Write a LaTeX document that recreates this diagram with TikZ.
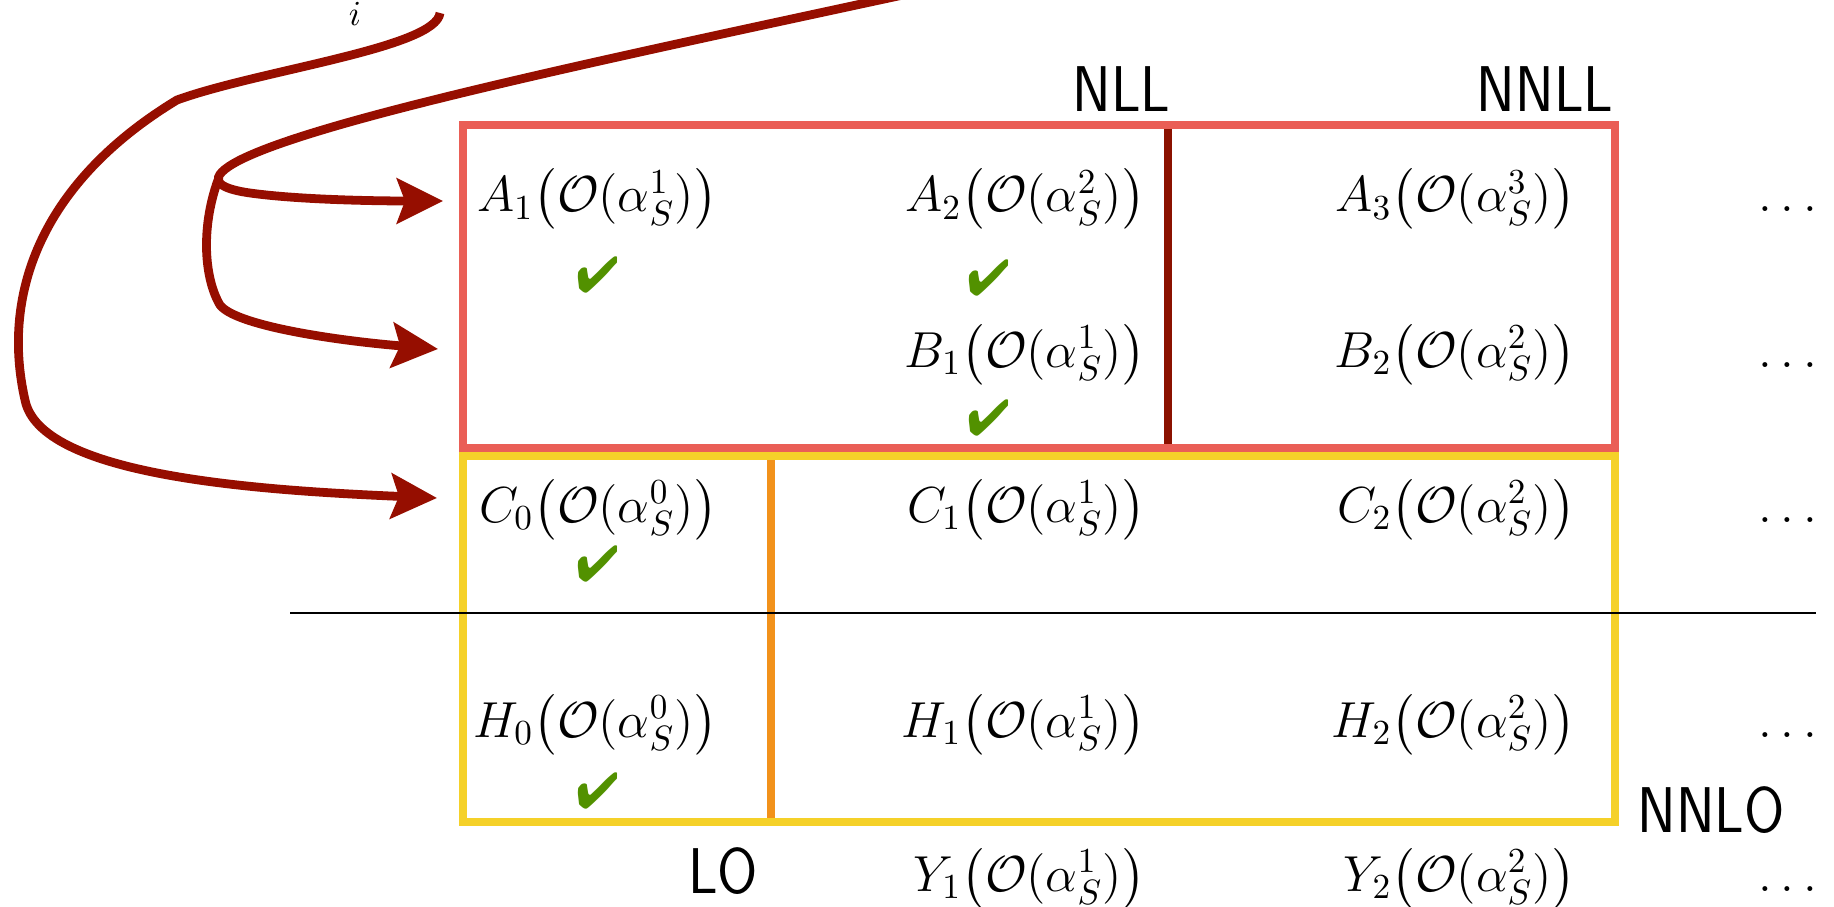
\documentclass[tikz,border=0pt]{standalone}
\usepackage{fontspec}
\usepackage{amsmath,amssymb}
\usepackage{pifont}
\usepackage{tikz}
\usetikzlibrary{arrows.meta}

\definecolor{rojoCaja}{RGB}{234,94,86}
\definecolor{rojoOscuro}{RGB}{139,17,0}
\definecolor{rojoFlecha}{RGB}{150,14,0}
\definecolor{amarilloCaja}{RGB}{245,209,41}
\definecolor{naranja}{RGB}{242,146,27}
\definecolor{verdeOk}{RGB}{82,145,0}

\newcommand{\coef}[3]{$#1_{#2}\big(\mathcal{O}(\alpha_S^{#3})\big)$}
\newcommand{\orden}[1]{\scalebox{0.9}[1]{#1}}

\begin{document}
\begin{tikzpicture}[
  termino/.style={anchor=base east, inner sep=0pt, font=\Large},
  puntos/.style={anchor=base west, inner sep=0pt, font=\Large},
  ok/.style={inner sep=0pt, font=\Large, text=verdeOk},
  etiqueta/.style={inner sep=0pt, font=\fontsize{18.4}{22}\selectfont\sffamily},
  flecha/.style={-{Stealth[length=4.6mm, width=4.5mm, inset=0.8mm]},
               line width=2.5pt, draw=rojoFlecha},
  borde/.style={line width=2.1pt}
]
\useasboundingbox (0,0) rectangle (18.34,9.06);
\clip (0,0) rectangle (18.34,9.06);

% divisiones y cajas
\draw[borde, rojoOscuro] (11.68,7.81) -- (11.68,4.58);
\draw[borde, rojoCaja] (4.63,7.81) rectangle (16.15,4.58);
\draw[borde, naranja] (7.71,4.50) -- (7.71,0.84);
\draw[borde, amarilloCaja] (4.63,4.50) rectangle (16.15,0.84);
\draw[line width=0.6pt] (2.90,2.93) -- (18.16,2.93);

% terminos
\node[termino] (a1) at (7.18,6.94) {\coef{A}{1}{1}};
\node[termino] (a2) at (11.46,6.94) {\coef{A}{2}{2}};
\node[termino] (a3) at (15.76,6.94) {\coef{A}{3}{3}};
\node[termino] (b1) at (11.46,5.39) {\coef{B}{1}{1}};
\node[termino] (b2) at (15.76,5.39) {\coef{B}{2}{2}};
\node[termino] (c0) at (7.18,3.84) {\coef{C}{0}{0}};
\node[termino] (c1) at (11.46,3.84) {\coef{C}{1}{1}};
\node[termino] (c2) at (15.76,3.84) {\coef{C}{2}{2}};
\node[termino] (h0) at (7.18,1.69) {\coef{H}{0}{0}};
\node[termino] (h1) at (11.46,1.69) {\coef{H}{1}{1}};
\node[termino] (h2) at (15.76,1.69) {\coef{H}{2}{2}};
\node[termino] (y1) at (11.46,0.15) {\coef{Y}{1}{1}};
\node[termino] (y2) at (15.76,0.15) {\coef{Y}{2}{2}};

\node[puntos] (puntosA) at (17.58,6.94) {$\dots$};
\node[puntos] (puntosB) at (17.58,5.39) {$\dots$};
\node[puntos] (puntosC) at (17.58,3.84) {$\dots$};
\node[puntos] (puntosH) at (17.58,1.69) {$\dots$};
\node[puntos] (puntosY) at (17.58,0.15) {$\dots$};

\node[ok] (okA1) at (5.98,6.31) {\ding{52}};
\node[ok] (okA2) at (9.89,6.28) {\ding{52}};
\node[ok] (okB1) at (9.89,4.88) {\ding{52}};
\node[ok] (okC0) at (5.98,3.42) {\ding{52}};
\node[ok] (okH0) at (5.98,1.15) {\ding{52}};

% ordenes
\node[etiqueta, anchor=base east] (nll) at (11.71,7.94) {\orden{NLL}};
\node[etiqueta, anchor=base east] (nnll) at (16.14,7.94) {\orden{NNLL}};
\node[etiqueta, anchor=base west] (nnlo) at (16.37,0.74) {\orden{NNLO}};
\node[etiqueta, anchor=base east] (lo) at (7.59,0.13) {\orden{LO}};

% flechas
\coordinate (origenSup) at (10.0,9.32);
\coordinate (origenI) at (4.40,8.93);
\coordinate (rama) at (2.18,7.26);
\coordinate (haciaA) at (4.43,7.05);
\coordinate (haciaB) at (4.38,5.57);
\coordinate (haciaC) at (4.37,4.08);

\node (ind) at (3.55,8.92) {$i$};

\draw[flecha] (origenSup) .. controls (6.5,8.56) and (3.3,7.91) .. (2.4,7.46)
  .. controls (2.05,7.28) and (2.15,7.18) .. (2.5,7.13)
  .. controls (3.0,7.06) and (3.8,7.05) .. (haciaA);
\draw[flecha] (rama) .. controls (2.0,6.76) and (2.05,6.26) .. (2.2,6.01)
  .. controls (2.35,5.81) and (3.3,5.66) .. (haciaB);
\draw[flecha] (origenI) .. controls (4.36,8.58) and (2.6,8.36) .. (1.77,8.06)
  .. controls (0.45,7.26) and (0.0,6.16) .. (0.25,5.06)
  .. controls (0.40,4.31) and (2.5,4.16) .. (haciaC);
\end{tikzpicture}
\end{document}
